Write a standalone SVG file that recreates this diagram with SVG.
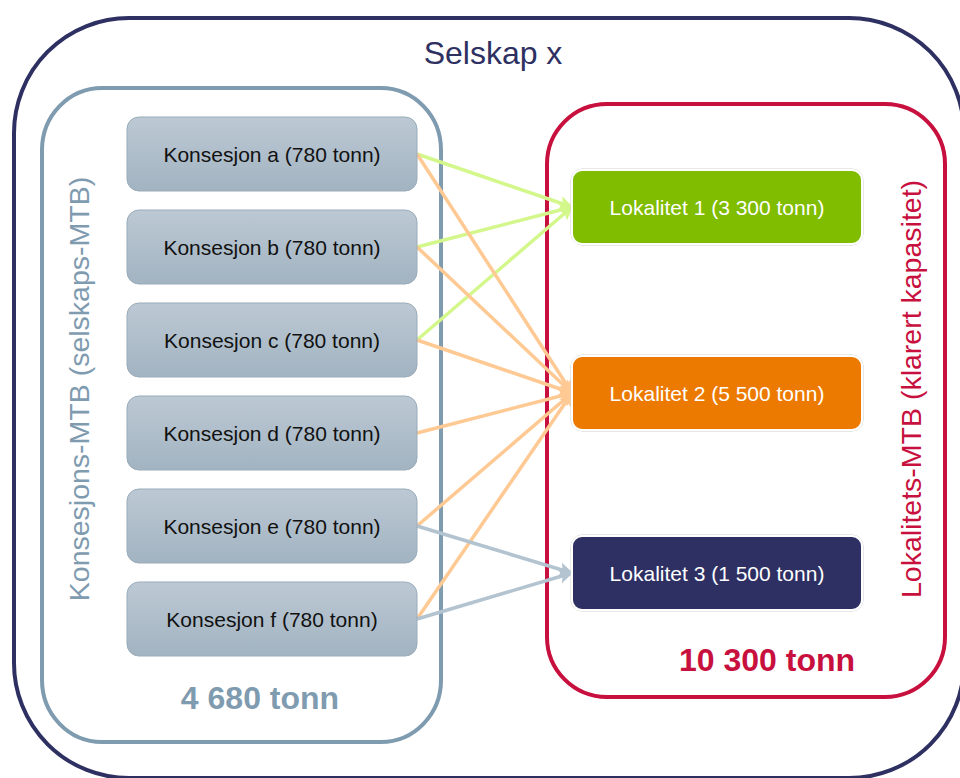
<svg xmlns="http://www.w3.org/2000/svg" width="960" height="778" viewBox="0 0 960 778">
<style>
.lbox{stroke:#9aabb9;stroke-width:1}
.ltxt{font-family:"Liberation Sans",Arial,sans-serif;font-size:21px;fill:#111;text-anchor:middle}
.rtxt{font-family:"Liberation Sans",Arial,sans-serif;font-size:21px;fill:#fff;text-anchor:middle}
.rbox{stroke:#fff;stroke-width:2}
.rshadow{fill:none;stroke:#d0d0d0;stroke-width:1}
.cg{stroke:#d4f78c;stroke-width:3.5;fill:none}
.co{stroke:#ffc994;stroke-width:3.5;fill:none}
.cb{stroke:#b3c4d0;stroke-width:3.5;fill:none}
</style>
<defs>
<linearGradient id="gb" x1="0" y1="0" x2="0" y2="1">
<stop offset="0" stop-color="#bcc9d4"/>
<stop offset="1" stop-color="#a2b3c1"/>
</linearGradient>
<marker id="ag" viewBox="0 0 10 10" refX="9" refY="5" markerWidth="14" markerHeight="14" markerUnits="userSpaceOnUse" orient="auto"><path d="M0,0 L10,5 L0,10 L2,5 Z" fill="#d4f78c"/></marker>
<marker id="ao" viewBox="0 0 10 10" refX="9" refY="5" markerWidth="14" markerHeight="14" markerUnits="userSpaceOnUse" orient="auto"><path d="M0,0 L10,5 L0,10 L2,5 Z" fill="#ffc994"/></marker>
<marker id="ab" viewBox="0 0 10 10" refX="9" refY="5" markerWidth="14" markerHeight="14" markerUnits="userSpaceOnUse" orient="auto"><path d="M0,0 L10,5 L0,10 L2,5 Z" fill="#b3c4d0"/></marker>
</defs>
<rect width="960" height="778" fill="#fff"/>

<g id="selskap">
<rect x="14" y="18" width="950" height="760" rx="115" ry="115" fill="none" stroke="#2e3062" stroke-width="4"/>
<text x="493" y="64" font-family="Liberation Sans,Arial,sans-serif" font-size="32" fill="#2e3062" text-anchor="middle">Selskap x</text>
</g>

<g id="konsesjons-mtb">
<rect x="42" y="88" width="399" height="654" rx="60" ry="62" fill="none" stroke="#7f9bb0" stroke-width="4"/>
<text transform="translate(89,389) rotate(-90)" font-family="Liberation Sans,Arial,sans-serif" font-size="28.5" fill="#7f9bb0" text-anchor="middle">Konsesjons-MTB (selskaps-MTB)</text>
<text x="260" y="709" font-family="Liberation Sans,Arial,sans-serif" font-size="32" font-weight="bold" fill="#7f9bb0" text-anchor="middle">4 680 tonn</text>
</g>

<g id="lokalitets-mtb">
<rect x="547" y="104" width="398" height="593" rx="60" ry="60" fill="none" stroke="#c8103e" stroke-width="4"/>
<text transform="translate(921,389) rotate(-90)" font-family="Liberation Sans,Arial,sans-serif" font-size="28.5" fill="#c8103e" text-anchor="middle">Lokalitets-MTB (klarert kapasitet)</text>
<text x="767" y="671" font-family="Liberation Sans,Arial,sans-serif" font-size="32" font-weight="bold" fill="#c8103e" text-anchor="middle">10 300 tonn</text>
</g>

<g id="connectors">
<line class="cg" x1="417" y1="154" x2="572" y2="207" marker-end="url(#ag)"/>
<line class="cg" x1="417" y1="247" x2="572" y2="207" marker-end="url(#ag)"/>
<line class="cg" x1="417" y1="340" x2="572" y2="207" marker-end="url(#ag)"/>
<line class="co" x1="417" y1="154" x2="572" y2="393" marker-end="url(#ao)"/>
<line class="co" x1="417" y1="247" x2="572" y2="393" marker-end="url(#ao)"/>
<line class="co" x1="417" y1="340" x2="572" y2="393" marker-end="url(#ao)"/>
<line class="co" x1="417" y1="433" x2="572" y2="393" marker-end="url(#ao)"/>
<line class="co" x1="417" y1="526" x2="572" y2="393" marker-end="url(#ao)"/>
<line class="co" x1="417" y1="619" x2="572" y2="393" marker-end="url(#ao)"/>
<line class="cb" x1="417" y1="526" x2="572" y2="573" marker-end="url(#ab)"/>
<line class="cb" x1="417" y1="619" x2="572" y2="573" marker-end="url(#ab)"/>
</g>

<g id="konsesjon-a"><rect class="lbox" x="127" y="117" width="290" height="74" rx="12" fill="url(#gb)"/><text class="ltxt" x="272" y="162">Konsesjon a (780 tonn)</text></g>
<g id="konsesjon-b"><rect class="lbox" x="127" y="210" width="290" height="74" rx="12" fill="url(#gb)"/><text class="ltxt" x="272" y="255">Konsesjon b (780 tonn)</text></g>
<g id="konsesjon-c"><rect class="lbox" x="127" y="303" width="290" height="74" rx="12" fill="url(#gb)"/><text class="ltxt" x="272" y="348">Konsesjon c (780 tonn)</text></g>
<g id="konsesjon-d"><rect class="lbox" x="127" y="396" width="290" height="74" rx="12" fill="url(#gb)"/><text class="ltxt" x="272" y="441">Konsesjon d (780 tonn)</text></g>
<g id="konsesjon-e"><rect class="lbox" x="127" y="489" width="290" height="74" rx="12" fill="url(#gb)"/><text class="ltxt" x="272" y="534">Konsesjon e (780 tonn)</text></g>
<g id="konsesjon-f"><rect class="lbox" x="127" y="582" width="290" height="74" rx="12" fill="url(#gb)"/><text class="ltxt" x="272" y="627">Konsesjon f (780 tonn)</text></g>

<g id="lokalitet-1"><rect class="rshadow" x="571" y="169" width="292" height="76" rx="11"/><rect class="rbox" x="572" y="170" width="290" height="74" rx="10" fill="#80bc00"/><text class="rtxt" x="717" y="215">Lokalitet 1 (3 300 tonn)</text></g>
<g id="lokalitet-2"><rect class="rshadow" x="571" y="355" width="292" height="76" rx="11"/><rect class="rbox" x="572" y="356" width="290" height="74" rx="10" fill="#ec7a00"/><text class="rtxt" x="717" y="401">Lokalitet 2 (5 500 tonn)</text></g>
<g id="lokalitet-3"><rect class="rshadow" x="571" y="535" width="292" height="76" rx="11"/><rect class="rbox" x="572" y="536" width="290" height="74" rx="10" fill="#2e2f63"/><text class="rtxt" x="717" y="581">Lokalitet 3 (1 500 tonn)</text></g>
</svg>
